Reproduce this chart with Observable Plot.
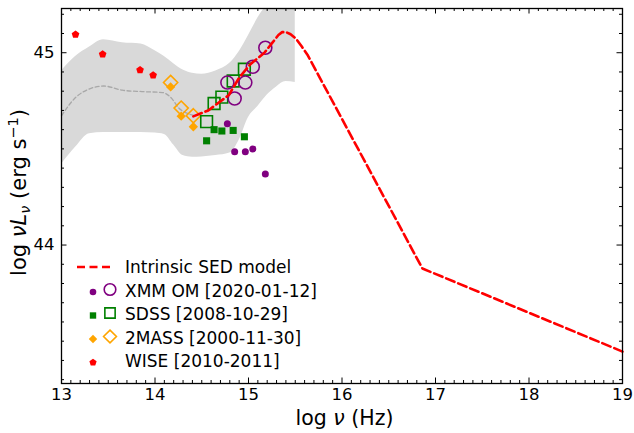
<!DOCTYPE html>
<html><head><meta charset="utf-8">
<script src="https://cdn.jsdelivr.net/npm/d3@7"></script>
<script src="https://cdn.jsdelivr.net/npm/@observablehq/plot@0.6"></script>
<style>
body{margin:0;background:#fff;}
#chart{position:relative;width:634px;height:433px;}
svg{font-family:"DejaVu Sans",sans-serif;}
</style>
</head><body><div id="chart"></div>
<script>
// ---- data (log nu [Hz], log nuLnu [erg/s]) ----
const bandX  = [13.0, 13.15, 13.3, 13.45, 13.65, 13.85, 14.0, 14.1, 14.2, 14.3, 14.4, 14.5, 14.65, 14.8, 14.9, 15.0, 15.1, 15.2, 15.3, 15.4, 15.5];
const bandLo = [44.42, 44.508, 44.579, 44.585, 44.585, 44.585, 44.582, 44.575, 44.52, 44.465, 44.456, 44.458, 44.465, 44.478, 44.545, 44.663, 44.72, 44.78, 44.822, 44.85, 44.845];
const bandHi = [44.905, 44.98, 45.03, 45.068, 45.052, 45.045, 45.01, 44.98, 44.943, 44.91, 44.893, 44.888, 44.905, 44.945, 45.005, 45.09, 45.18, 45.25, 45.3, 45.3, 45.3];

const medX = [13.0, 13.15, 13.29, 13.45, 13.65, 13.86, 14.08, 14.185, 14.25, 14.36, 14.435];
const medY = [44.672, 44.767, 44.81, 44.827, 44.805, 44.798, 44.793, 44.759, 44.715, 44.682, 44.672];

const modelX = [14.41, 14.57, 14.79, 14.90, 15.02, 15.17, 15.26, 15.32, 15.36, 15.40, 15.45, 15.51, 15.57, 15.63, 16.86, 19.0];
const modelY = [44.669, 44.70, 44.78, 44.87, 44.94, 45.00, 45.055, 45.092, 45.107, 45.108, 45.096, 45.072, 45.032, 44.99, 43.878, 43.446];

const wiseX = [13.15, 13.44, 13.84, 13.98];
const wiseY = [45.095, 44.992, 44.91, 44.883];

const tmassX      = [14.167, 14.28, 14.41];
const tmassFilled = [44.822, 44.67, 44.615];
const tmassOpen   = [44.845, 44.712, 44.672];

const sdssX      = [14.552, 14.632, 14.715, 14.836, 14.956];
const sdssFilled = [44.542, 44.60, 44.593, 44.596, 44.563];
const sdssOpen   = [44.642, 44.736, 44.769, 44.853, 44.914];

const xmmX      = [14.774, 14.852, 14.966, 15.046, 15.18];
const xmmFilled = [44.631, 44.485, 44.485, 44.50, 44.37];
const xmmOpen   = [44.845, 44.762, 44.845, 44.927, 45.026];

const xTicks = [13, 14, 15, 16, 17, 18, 19];
const yTicks = [44, 45];
const legendLabels = ["Intrinsic SED model", "XMM OM [2020-01-12]", "SDSS [2008-10-29]", "2MASS [2000-11-30]", "WISE [2010-2011]"];

// ---- build ----
const W = 634, H = 433, mL = 61, mR = 12, mT = 8, mB = 50;
const iW = W - mL - mR, iH = H - mT - mB;
const zip = (xs, ys) => xs.map((x, i) => ({x, y: ys[i]}));
const band = bandX.map((x, i) => ({x, lo: bandLo[i], hi: bandHi[i]}));
const xMinor = d3.range(130, 191).filter(d => d % 10 !== 0).map(d => d / 10);
const yMinor = d3.range(433, 453).filter(d => d % 10 !== 0).map(d => d / 10);

const pentagon = {
  draw(ctx, size) {
    const r = Math.sqrt(size / Math.PI) * 1.12;
    for (let i = 0; i < 5; i++) {
      const a = -Math.PI / 2 + i * 2 * Math.PI / 5;
      const px = r * Math.cos(a), py = r * Math.sin(a);
      if (i === 0) ctx.moveTo(px, py); else ctx.lineTo(px, py);
    }
    ctx.closePath();
  }
};

const majLen = 5.5, minLen = 3;
const chart = Plot.plot({
  width: W, height: H,
  marginLeft: mL, marginRight: mR, marginTop: mT, marginBottom: mB,
  style: {fontFamily: "DejaVu Sans, sans-serif", fontSize: "16.5px", color: "black", background: "white"},
  x: {domain: [13, 19], label: null},
  y: {domain: [43.28, 45.23], label: null},
  marks: [
    Plot.areaY(band, {x: "x", y1: "lo", y2: "hi", fill: "#d9d9d9", curve: "monotone-x", clip: true}),
    Plot.line(zip(medX, medY), {x: "x", y: "y", stroke: "#a8a8a8", strokeWidth: 1.3, strokeDasharray: "4,2.5", curve: "monotone-x"}),
    Plot.dot(zip(wiseX, wiseY), {x: "x", y: "y", symbol: pentagon, r: 3.6, fill: "red"}),
    Plot.dot(zip(tmassX, tmassFilled), {x: "x", y: "y", symbol: "diamond2", r: 4.2, fill: "orange"}),
    Plot.dot(zip(sdssX, sdssFilled), {x: "x", y: "y", symbol: "square", r: 4, fill: "green"}),
    Plot.dot(zip(xmmX, xmmFilled), {x: "x", y: "y", symbol: "circle", r: 3.5, fill: "purple"}),
    Plot.dot(zip(tmassX, tmassOpen), {x: "x", y: "y", symbol: "diamond2", r: 6.4, fill: "none", stroke: "orange", strokeWidth: 1.6}),
    Plot.dot(zip(sdssX, sdssOpen), {x: "x", y: "y", symbol: "square", r: 6.6, fill: "none", stroke: "green", strokeWidth: 1.6}),
    Plot.dot(zip(xmmX, xmmOpen), {x: "x", y: "y", symbol: "circle", r: 6.5, fill: "none", stroke: "purple", strokeWidth: 1.6}),
    Plot.line(zip(modelX, modelY), {x: "x", y: "y", stroke: "red", strokeWidth: 2.6, strokeDasharray: "9,4"}),
    // inward ticks on all four sides
    Plot.tickX(xTicks, {x: d => d, insetTop: iH - majLen, stroke: "black"}),
    Plot.tickX(xMinor, {x: d => d, insetTop: iH - minLen, stroke: "black"}),
    Plot.tickX(xTicks, {x: d => d, insetBottom: iH - majLen, stroke: "black"}),
    Plot.tickX(xMinor, {x: d => d, insetBottom: iH - minLen, stroke: "black"}),
    Plot.tickY(yTicks, {y: d => d, insetRight: iW - majLen, stroke: "black"}),
    Plot.tickY(yMinor, {y: d => d, insetRight: iW - minLen, stroke: "black"}),
    Plot.tickY(yTicks, {y: d => d, insetLeft: iW - majLen, stroke: "black"}),
    Plot.tickY(yMinor, {y: d => d, insetLeft: iW - minLen, stroke: "black"}),
    Plot.frame({stroke: "black", strokeWidth: 1.3}),
    Plot.axisX({ticks: xTicks, tickFormat: d3.format("d"), tickSize: 0, tickPadding: 5, label: null, fill: "black"}),
    Plot.axisY({ticks: yTicks, tickFormat: d3.format("d"), tickSize: 0, tickPadding: 7, label: null, fill: "black"})
  ]
});
document.getElementById("chart").appendChild(chart);

const svg = d3.select(chart);
// axis labels with math-style text
const xl = svg.append("text").attr("x", mL + iW / 2 + 3).attr("y", 425).attr("text-anchor", "middle")
  .attr("font-size", 20.5).attr("fill", "black");
xl.append("tspan").text("log ");
xl.append("tspan").attr("font-style", "italic").text("ν");
xl.append("tspan").text(" (Hz)");

const yl = svg.append("text").attr("transform", `translate(26,${mT + iH / 2 - 3}) rotate(-90)`)
  .attr("text-anchor", "middle").attr("font-size", 21).attr("fill", "black");
yl.append("tspan").text("log ");
yl.append("tspan").attr("font-style", "italic").text("νL");
yl.append("tspan").attr("font-style", "italic").attr("font-size", 14.5).attr("dy", 4).text("ν");
yl.append("tspan").attr("dy", -4).text(" (erg s");
yl.append("tspan").attr("font-size", 14.5).attr("dy", -8).text("−1");
yl.append("tspan").attr("dy", 8).text(")");

// legend
const lg = svg.append("g").attr("font-size", 17).attr("fill", "black").attr("text-anchor", "start");
const rows = [267, 290.5, 314, 337.5, 361];
const sym = (type, size) => d3.symbol().type(type).size(size)();
lg.append("line").attr("x1", 77).attr("x2", 110).attr("y1", rows[0]).attr("y2", rows[0])
  .attr("stroke", "red").attr("stroke-width", 2.6).attr("stroke-dasharray", "8,4.5");
const legendSyms = [
  null,
  {type: d3.symbolCircle, color: "purple", sf: 3.3, so: 5.8},
  {type: d3.symbolSquare, color: "green", sf: 3.6, so: 5.8},
  {type: d3.symbolDiamond2, color: "orange", sf: 3.8, so: 5.8},
  {type: pentagon, color: "red", sf: 3.4, so: null}
];
legendSyms.forEach((s, i) => {
  if (s) {
    lg.append("path").attr("d", sym(s.type, Math.PI * s.sf * s.sf))
      .attr("transform", `translate(93,${rows[i] + 1.5})`).attr("fill", s.color);
    if (s.so) lg.append("path").attr("d", sym(s.type, Math.PI * s.so * s.so))
      .attr("transform", `translate(110,${rows[i] - 1})`).attr("fill", "none")
      .attr("stroke", s.color).attr("stroke-width", 1.6);
  }
  lg.append("text").attr("x", 125).attr("y", rows[i]).attr("dy", "0.36em").text(legendLabels[i]);
});
</script>
</body></html>
